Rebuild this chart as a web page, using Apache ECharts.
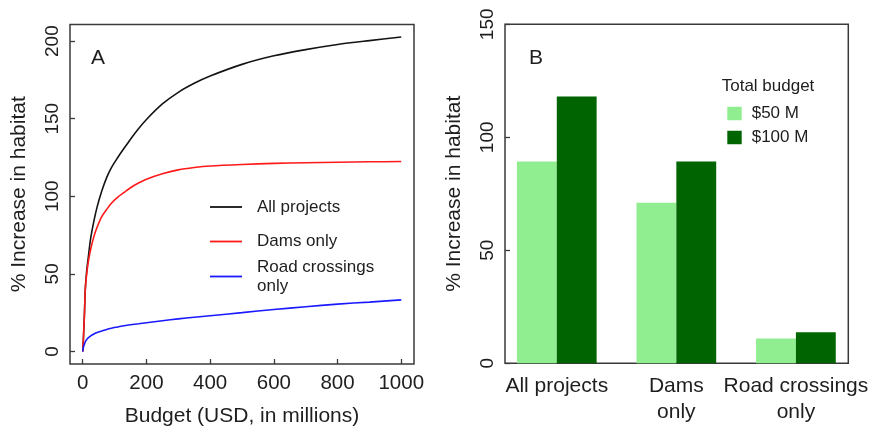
<!DOCTYPE html>
<html>
<head>
<meta charset="utf-8">
<title>Habitat gain by budget</title>
<script src="https://cdn.jsdelivr.net/npm/echarts@6/dist/echarts.min.js"></script>
<style>
  html, body { margin: 0; padding: 0; background: #ffffff; }
  #chart { width: 873px; height: 433px; }
</style>
</head>
<body>
<div id="chart"></div>
<script>
// Panel A: habitat gain (%) as a function of budget (USD millions)
const budgetX     = [0, 2, 5, 8, 12, 17, 25, 35, 45, 60, 75, 90, 110, 130, 150, 175, 200, 250, 300, 350, 400, 500, 600, 700, 800, 900, 1000];
const allProjects = [0, 8, 22, 40, 51, 60, 73, 84, 93, 103.5, 112, 118.5, 125, 131, 136.8, 143.5, 149.5, 159.5, 167, 172.8, 177.5, 185, 190.5, 194.5, 197.8, 200.3, 202.6];
const damsOnly    = [0, 8, 22, 40, 49, 57, 66, 74, 80, 87, 91.5, 95.5, 99.5, 102.5, 105.5, 108.5, 111, 114.5, 117, 118.5, 119.5, 120.5, 121.2, 121.6, 121.9, 122.2, 122.4];
const roadOnly    = [0, 2.5, 4.5, 6.3, 7.6, 8.7, 10, 11.2, 12.2, 13.2, 14.1, 15, 15.8, 16.6, 17.2, 17.8, 18.5, 19.8, 21, 22, 23, 25, 27, 28.8, 30.5, 31.8, 33.2];
const budgetTicks = [0, 200, 400, 600, 800, 1000];
const gainTicksA  = [0, 50, 100, 150, 200];

// Panel B: habitat gain at two fixed total budgets
const projectTypes = ['All projects', 'Dams\nonly', 'Road crossings\nonly'];
const budget50  = [89.3, 71.0, 11.0];
const budget100 = [118.1, 89.3, 13.7];
const budgetNames = ['$50 M', '$100 M'];

const TXT = '#1e1e1e';
const FRAME = '#3a3a3a';
const FONT = '"Liberation Sans", Arial, sans-serif';

function pairs(xs, ys) { return xs.map((x, i) => [x, ys[i]]); }

const chart = echarts.init(document.getElementById('chart'), null, { renderer: 'canvas' });

const lineStyleFor = c => ({ color: c, width: 1.6 });
const legendText = { fontSize: 17, lineHeight: 19, color: TXT, fontFamily: FONT, padding: [0, 0, 0, 10] };

chart.setOption({
  animation: false,
  textStyle: { fontFamily: FONT, color: TXT },
  title: [
    { text: 'A', left: 91, top: 48, padding: 0, textStyle: { fontSize: 21, fontWeight: 'normal', color: TXT, fontFamily: FONT, lineHeight: 21 } },
    { text: 'B', left: 529, top: 48, padding: 0, textStyle: { fontSize: 21, fontWeight: 'normal', color: TXT, fontFamily: FONT, lineHeight: 21 } },
    { text: 'Total budget', left: 721.7, top: 77.5, padding: 0, textStyle: { fontSize: 17, fontWeight: 'normal', color: TXT, fontFamily: FONT, lineHeight: 17 } }
  ],
  grid: [
    { left: 70, top: 24.5, width: 344, height: 339.5, show: true, borderColor: FRAME, borderWidth: 1.5, backgroundColor: 'transparent' },
    { left: 505, top: 24.3, width: 343.3, height: 339, show: true, borderColor: FRAME, borderWidth: 1.5, backgroundColor: 'transparent' },
    { left: 497, top: 24.3, width: 358.7, height: 339, show: false }
  ],
  legend: [
    { data: [{ name: 'All projects', icon: 'rect' }], left: 210, top: 197.5, padding: 0, itemWidth: 32, itemHeight: 1.8,
      textStyle: legendText, selectedMode: false },
    { data: [{ name: 'Dams only', icon: 'rect' }], left: 210, top: 232, padding: 0, itemWidth: 32, itemHeight: 1.8,
      textStyle: legendText, selectedMode: false },
    { data: [{ name: 'Road crossings only', icon: 'rect' }], left: 210, top: 257.5, padding: 0, itemWidth: 32, itemHeight: 1.8,
      formatter: () => 'Road crossings\nonly', textStyle: legendText, selectedMode: false },
    { data: budgetNames.map(n => ({ name: n, icon: 'rect' })), orient: 'vertical', left: 727.3, top: 105, padding: 0,
      itemWidth: 14.4, itemHeight: 13.5, itemGap: 7,
      textStyle: { fontSize: 17, lineHeight: 14, color: TXT, fontFamily: FONT, padding: [0, 0, 0, 5] }, selectedMode: false }
  ],
  xAxis: [
    {
      gridIndex: 0, type: 'value', min: -40, max: 1040,
      name: 'Budget (USD, in millions)', nameLocation: 'middle', nameGap: 42,
      nameTextStyle: { fontSize: 21, color: TXT, fontFamily: FONT },
      axisLine: { show: false, onZero: false },
      axisTick: { show: true, inside: true, length: 5, lineStyle: { color: FRAME, width: 1.3 }, customValues: budgetTicks },
      axisLabel: { fontSize: 20.5, color: TXT, margin: 9, customValues: budgetTicks, formatter: v => String(v) },
      splitLine: { show: false }
    },
    { gridIndex: 1, type: 'value', min: 0, max: 1, show: false, axisLine: { onZero: false } },
    {
      gridIndex: 2, type: 'category', data: projectTypes, boundaryGap: true,
      axisLine: { show: false, onZero: false }, axisTick: { show: false },
      axisLabel: { fontSize: 21, lineHeight: 26, color: TXT, margin: 10, interval: 0 },
      splitLine: { show: false }
    }
  ],
  yAxis: [
    {
      gridIndex: 0, type: 'value', min: -8.1, max: 210.7,
      name: '% Increase in habitat', nameLocation: 'middle', nameGap: 40,
      nameTextStyle: { fontSize: 21, color: TXT, fontFamily: FONT },
      axisLine: { show: false, onZero: false },
      axisTick: { show: true, inside: true, length: 5, lineStyle: { color: FRAME, width: 1.3 }, customValues: gainTicksA },
      axisLabel: { fontSize: 19, color: TXT, margin: 8, rotate: 90, customValues: gainTicksA },
      splitLine: { show: false }
    },
    {
      gridIndex: 1, type: 'value', min: 0, max: 150, interval: 50,
      name: '% Increase in habitat', nameLocation: 'middle', nameGap: 40,
      nameTextStyle: { fontSize: 21, color: TXT, fontFamily: FONT },
      axisLine: { show: false, onZero: false },
      axisTick: { show: true, inside: true, length: 5, lineStyle: { color: FRAME, width: 1.3 } },
      axisLabel: { fontSize: 19, color: TXT, margin: 8, rotate: 90 },
      splitLine: { show: false }
    },
    { gridIndex: 2, type: 'value', min: 0, max: 150, show: false, axisLine: { onZero: false } }
  ],
  series: [
    { name: 'All projects', type: 'line', xAxisIndex: 0, yAxisIndex: 0, data: pairs(budgetX, allProjects),
      showSymbol: false, smooth: 0.3, lineStyle: lineStyleFor('#141414'), itemStyle: { color: '#141414' } },
    { name: 'Dams only', type: 'line', xAxisIndex: 0, yAxisIndex: 0, data: pairs(budgetX, damsOnly),
      showSymbol: false, smooth: 0.3, lineStyle: lineStyleFor('#ff1a1a'), itemStyle: { color: '#ff1a1a' } },
    { name: 'Road crossings only', type: 'line', xAxisIndex: 0, yAxisIndex: 0, data: pairs(budgetX, roadOnly),
      showSymbol: false, smooth: 0.3, lineStyle: lineStyleFor('#1a1aff'), itemStyle: { color: '#1a1aff' } },
    { name: budgetNames[0], type: 'bar', xAxisIndex: 2, yAxisIndex: 2, data: budget50,
      barWidth: '33.33%', barGap: '0%', itemStyle: { color: '#90ee90' } },
    { name: budgetNames[1], type: 'bar', xAxisIndex: 2, yAxisIndex: 2, data: budget100,
      barWidth: '33.33%', barGap: '0%', itemStyle: { color: '#006400' } }
  ]
});
</script>
</body>
</html>
